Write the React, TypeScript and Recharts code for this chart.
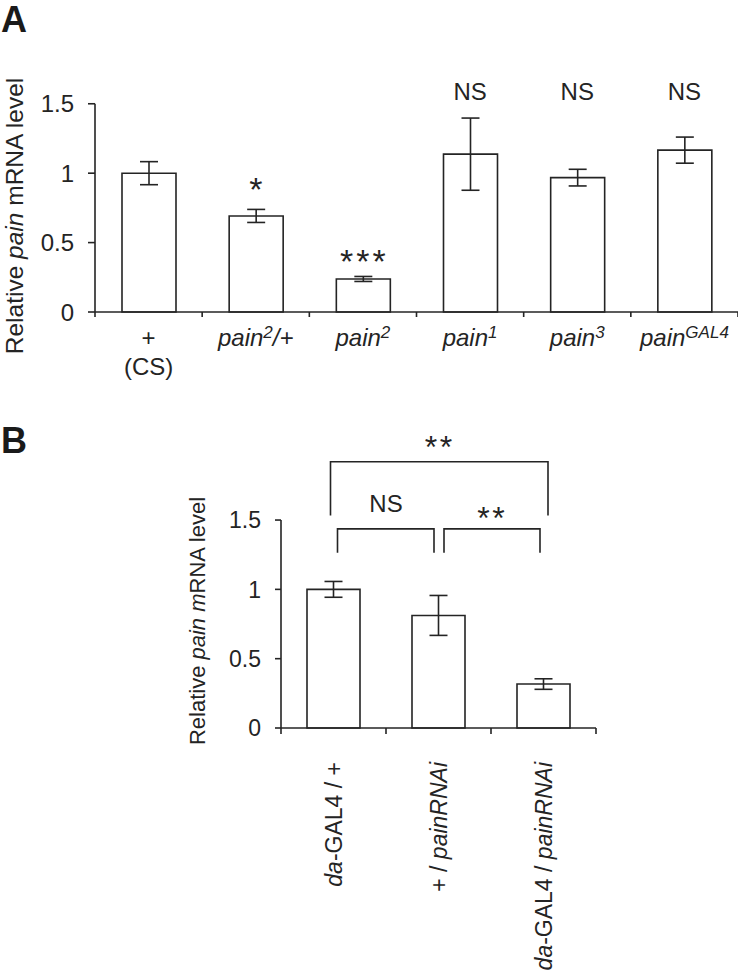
import React from "react";
import {
  BarChart,
  Bar,
  XAxis,
  YAxis,
  ErrorBar,
  ReferenceLine,
  ReferenceDot,
} from "recharts";

const FONT = '"Liberation Sans", Arial, Helvetica, sans-serif';
const INK = "#242424";

// Panel A: relative pain mRNA level per genotype
const genotypesA = ["+\n(CS)", "pain^2/+", "pain^2", "pain^1", "pain^3", "pain^GAL4"];
const meanA = [1.0, 0.692, 0.238, 1.137, 0.968, 1.166];
const semA = [0.083, 0.047, 0.018, 0.26, 0.06, 0.094];
const sigA = ["", "*", "***", "NS", "NS", "NS"];
const sigPosA = [0, 0.945, 0.425, 1.586, 1.586, 1.586];

// Panel B: RNAi knockdown
const genotypesB = ["da-GAL4 / +", "+ / painRNAi", "da-GAL4 / painRNAi"];
const meanB = [1.0, 0.812, 0.317];
const semB = [0.057, 0.144, 0.038];
// comparison brackets: between which genotypes, bracket top / leg bottom, label and its height
const bracketFromB = [0, 0, 1];
const bracketToB = [2, 1, 2];
const bracketTopB = [1.921, 1.436, 1.436];
const bracketBottomB = [1.532, 1.265, 1.265];
const bracketTextB = ["**", "NS", "**"];
const bracketTextYB = [2.078, 1.621, 1.566];
// small pixel nudges of the bracket ends (left, right)
const bracketInset = [
  [-3, 4.5],
  [4, -4.5],
  [5.5, -3.5],
];

const yTicks = [0, 0.5, 1, 1.5];

const dataA = genotypesA.map((g, i) => ({ genotype: g, mean: meanA[i], sem: semA[i] }));
const dataB = genotypesB.map((g, i) => ({ genotype: g, mean: meanB[i], sem: semB[i] }));

const BAND_A = 643 / genotypesA.length;
const BAND_B = 315 / genotypesB.length;

function AlleleText({ label }: { label: string }) {
  const m = label.match(/^pain\^(\w+)(.*)$/);
  if (!m) return <>{label}</>;
  return (
    <>
      <tspan fontStyle="italic">pain</tspan>
      <tspan fontStyle="italic" fontSize={17} dy={-8}>
        {m[1]}
      </tspan>
      {m[2] ? (
        <tspan fontStyle="italic" dy={8}>
          {m[2]}
        </tspan>
      ) : null}
    </>
  );
}

function TickA(props: any) {
  const { x, y, payload, index } = props;
  const [first, second] = String(payload.value).split("\n");
  const half = BAND_A / 2;
  return (
    <g>
      <line x1={x - half} x2={x - half} y1={y} y2={y + 5} stroke={INK} strokeWidth={1.6} />
      {index === genotypesA.length - 1 && (
        <line x1={x + half} x2={x + half} y1={y} y2={y + 5} stroke={INK} strokeWidth={1.6} />
      )}
      <text x={x} y={y + 34} textAnchor="middle" fontSize={24} fontFamily={FONT} fill={INK}>
        <AlleleText label={first} />
      </text>
      {second && (
        <text x={x} y={y + 63} textAnchor="middle" fontSize={24} fontFamily={FONT} fill={INK}>
          {second}
        </text>
      )}
    </g>
  );
}

function TickB(props: any) {
  const { x, y, payload, index } = props;
  const half = BAND_B / 2;
  const parts = String(payload.value)
    .split(/(da|painRNAi)/)
    .filter((p) => p.length > 0);
  return (
    <g>
      <line x1={x - half} x2={x - half} y1={y} y2={y + 6} stroke={INK} strokeWidth={1.6} />
      {index === genotypesB.length - 1 && (
        <line x1={x + half} x2={x + half} y1={y} y2={y + 6} stroke={INK} strokeWidth={1.6} />
      )}
      <text
        transform={`translate(${x + 8},${y + 34}) rotate(-90)`}
        textAnchor="end"
        fontSize={23}
        fontFamily={FONT}
        fill={INK}
      >
        {parts.map((p, i) => (
          <tspan key={i} fontStyle={p === "da" || p === "painRNAi" ? "italic" : "normal"}>
            {p}
          </tspan>
        ))}
      </text>
    </g>
  );
}

function YTitle({ x, y, size, italic, rest }: { x: number; y: number; size: number; italic: string; rest: string }) {
  return (
    <text
      transform={`translate(${x},${y}) rotate(-90)`}
      textAnchor="middle"
      fontSize={size}
      fontFamily={FONT}
      fill={INK}
    >
      <tspan>{"Relative "}</tspan>
      <tspan fontStyle="italic">{italic}</tspan>
      <tspan>{rest}</tspan>
    </text>
  );
}

// star labels are centred on the glyph, NS on the cap height
function sigLabel(text: string, starSize: number, spacing: number) {
  const star = text.includes("*");
  return (p: any) => {
    const vb = p.viewBox || {};
    const cx = (vb.x ?? 0) + (vb.width ?? 0) / 2;
    const cy = (vb.y ?? 0) + (vb.height ?? 0) / 2;
    return (
      <text
        x={cx + (star ? spacing / 2 : 0)}
        y={cy}
        dy={star ? "0.58em" : "0.355em"}
        textAnchor="middle"
        fontSize={star ? starSize : 24}
        letterSpacing={star ? spacing : 0}
        fontFamily={FONT}
        fill={INK}
      >
        {text}
      </text>
    );
  };
}

function bracketShape(insetL: number, insetR: number) {
  return (p: any) => {
    const top = Math.min(p.y1, p.y2);
    const bottom = Math.max(p.y1, p.y2);
    const left = Math.min(p.x1, p.x2) + insetL;
    const right = Math.max(p.x1, p.x2) + insetR;
    return (
      <path
        d={`M${left},${bottom}V${top}H${right}V${bottom}`}
        fill="none"
        stroke={INK}
        strokeWidth={1.6}
      />
    );
  };
}

function PanelLetter({ text, top }: { text: string; top: number }) {
  return (
    <div
      style={{
        position: "absolute",
        left: 1,
        top,
        fontFamily: FONT,
        fontWeight: 700,
        fontSize: 36,
        lineHeight: "36px",
        color: "#1a1a1a",
      }}
    >
      {text}
    </div>
  );
}

export default function App() {
  return (
    <div
      style={{
        position: "absolute",
        left: 0,
        top: 0,
        width: 738,
        height: 973,
        background: "#fff",
        overflow: "hidden",
      }}
    >
      <PanelLetter text="A" top={2} />
      <PanelLetter text="B" top={423} />

      {/* Panel A */}
      <div style={{ position: "absolute", left: 0, top: 0 }}>
        <BarChart width={738} height={400} data={dataA} margin={{ top: 76, right: 0, bottom: 8, left: 35 }}>
          <XAxis
            dataKey="genotype"
            interval={0}
            height={80}
            axisLine={{ stroke: INK, strokeWidth: 1.6 }}
            tickLine={false}
            tickSize={0}
            tickMargin={0}
            tick={<TickA />}
          />
          {/* hidden index axis: index 0 sits on the plot's left edge */}
          <XAxis xAxisId="n" type="number" hide />
          <YAxis
            domain={[0, 1.7]}
            ticks={yTicks}
            width={60}
            axisLine={false}
            tickLine={{ stroke: INK, strokeWidth: 1.6 }}
            tickSize={7}
            tickMargin={14}
            tick={{ fontSize: 24, fontFamily: FONT, fill: INK }}
            label={() => <YTitle x={22.5} y={216} size={24.5} italic="pain" rest=" mRNA level" />}
          />
          <ReferenceLine
            xAxisId="n"
            segment={[
              { x: 0, y: 0 },
              { x: 0, y: 1.5 },
            ]}
            stroke={INK}
            strokeWidth={1.6}
          />
          <Bar dataKey="mean" fill="#fff" stroke={INK} strokeWidth={1.6} barSize={54} isAnimationActive={false}>
            <ErrorBar dataKey="sem" width={9} stroke={INK} strokeWidth={1.6} direction="y" isAnimationActive={false} />
          </Bar>
          {genotypesA.map((g, i) =>
            sigA[i] ? (
              <ReferenceDot
                key={g}
                x={g}
                y={sigPosA[i]}
                r={0}
                fill="none"
                stroke="none"
                label={sigLabel(sigA[i], 34, 3)}
              />
            ) : null
          )}
        </BarChart>
      </div>

      {/* Panel B */}
      <div style={{ position: "absolute", left: 0, top: 400 }}>
        <BarChart width={738} height={573} data={dataB} margin={{ top: 23, right: 142, bottom: 5, left: 221 }}>
          <XAxis
            dataKey="genotype"
            interval={0}
            height={240}
            axisLine={{ stroke: INK, strokeWidth: 1.6 }}
            tickLine={false}
            tickSize={0}
            tickMargin={0}
            tick={<TickB />}
          />
          <XAxis xAxisId="n" type="number" hide />
          <YAxis
            domain={[0, 2.2]}
            ticks={yTicks}
            width={60}
            axisLine={false}
            tickLine={{ stroke: INK, strokeWidth: 1.6 }}
            tickSize={6}
            tickMargin={14}
            tick={{ fontSize: 23, fontFamily: FONT, fill: INK }}
            label={() => <YTitle x={205} y={221} size={22} italic="pain m" rest="RNA level" />}
          />
          <ReferenceLine
            xAxisId="n"
            segment={[
              { x: 0, y: 0 },
              { x: 0, y: 1.5 },
            ]}
            stroke={INK}
            strokeWidth={1.6}
          />
          <Bar dataKey="mean" fill="#fff" stroke={INK} strokeWidth={1.6} barSize={53} isAnimationActive={false}>
            <ErrorBar dataKey="sem" width={9} stroke={INK} strokeWidth={1.6} direction="y" isAnimationActive={false} />
          </Bar>
          {bracketTextB.map((t, i) => (
            <React.Fragment key={`br-${i}`}>
              <ReferenceLine
                segment={[
                  { x: genotypesB[bracketFromB[i]], y: bracketTopB[i] },
                  { x: genotypesB[bracketToB[i]], y: bracketBottomB[i] },
                ]}
                stroke={INK}
                strokeWidth={1.6}
                shape={bracketShape(bracketInset[i][0], bracketInset[i][1])}
              />
              <ReferenceLine
                segment={[
                  { x: genotypesB[bracketFromB[i]], y: bracketTextYB[i] },
                  { x: genotypesB[bracketToB[i]], y: bracketTextYB[i] },
                ]}
                stroke="none"
                label={sigLabel(t, 32, 2.5)}
              />
            </React.Fragment>
          ))}
        </BarChart>
      </div>
    </div>
  );
}
